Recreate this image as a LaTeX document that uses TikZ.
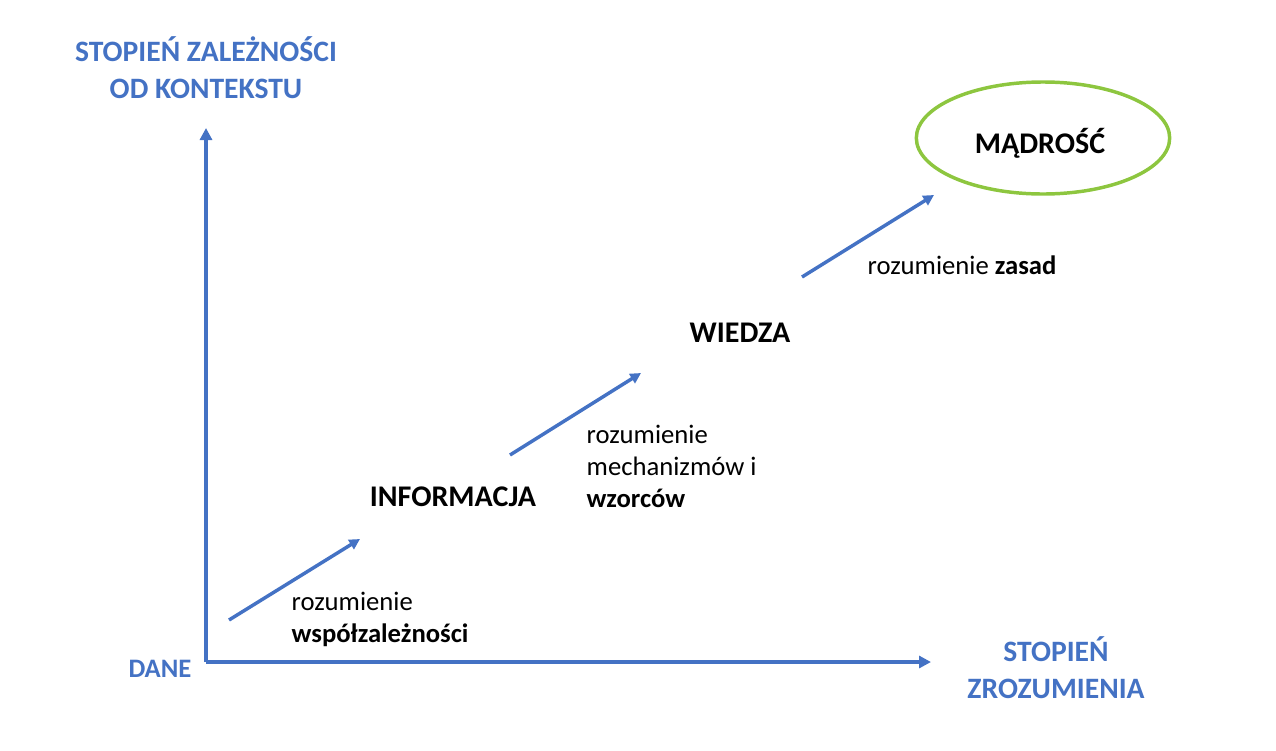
\documentclass[tikz,border=0pt]{standalone}
\usepackage{fontspec}
\setmainfont{Carlito}
\usetikzlibrary{arrows.meta,shapes.geometric}
\definecolor{axisblue}{HTML}{4472C4}
\definecolor{wisdomgreen}{HTML}{8DC63F}
\begin{document}
\begin{tikzpicture}[x=0.75pt, y=-0.75pt,
    axislabel/.style={text=axisblue, font=\fontsize{22.2}{27.75}\selectfont\bfseries, align=center},
    stage/.style={font=\fontsize{22.5}{27}\selectfont\bfseries},
    note/.style={font=\fontsize{20}{24}\selectfont, align=left, anchor=west},
    axisline/.style={draw=axisblue, line width=3pt, -{Triangle[length=9pt, width=9pt]}},
    steparrow/.style={draw=axisblue, line width=2.6pt, -{Triangle[length=8pt, width=8pt]}}]
    \useasboundingbox (0,0) rectangle (1276,750);

    % axes
    \coordinate (origin) at (206,662);
    \coordinate (ytip) at (206,128);
    \coordinate (xtip) at (931,662);
    \draw[axisline] (origin) -- (ytip);
    \draw[axisline] (origin) -- (xtip);

    \node (ylabel) at (206,68) [axislabel] {STOPIEŃ ZALEŻNOŚCI\\OD KONTEKSTU};
    \node (xlabel) at (1056,668) [axislabel] {STOPIEŃ\\ZROZUMIENIA};
    \node (dane) at (160,669) [axislabel, font=\fontsize{20}{24}\selectfont\bfseries] {DANE};

    % stages
    \node (info) at (453,497) [stage] {INFORMACJA};
    \node (wiedza) at (740,333) [stage] {WIEDZA};
    \node (madrosc) at (1043,138) [draw=wisdomgreen, line width=2.6pt, ellipse, minimum width=190pt, minimum height=84pt] {};
    \node (madrosc_label) at (1040,143) [stage] {MĄDROŚĆ};

    % step arrows
    \coordinate (s1a) at (229,620);
    \coordinate (s1b) at (360,539);
    \coordinate (s2a) at (510,455);
    \coordinate (s2b) at (641,373);
    \coordinate (s3a) at (802,277);
    \coordinate (s3b) at (934,195);
    \draw[steparrow] (s1a) -- (s1b);
    \draw[steparrow] (s2a) -- (s2b);
    \draw[steparrow] (s3a) -- (s3b);

    \node (note1) at (287,619) [note] {rozumienie\\\textbf{współzależności}};
    \node (note2) at (582,466) [note] {rozumienie\\mechanizmów i\\\textbf{wzorców}};
    \node (note3) at (863,265) [note] {rozumienie \textbf{zasad}};
\end{tikzpicture}
\end{document}
